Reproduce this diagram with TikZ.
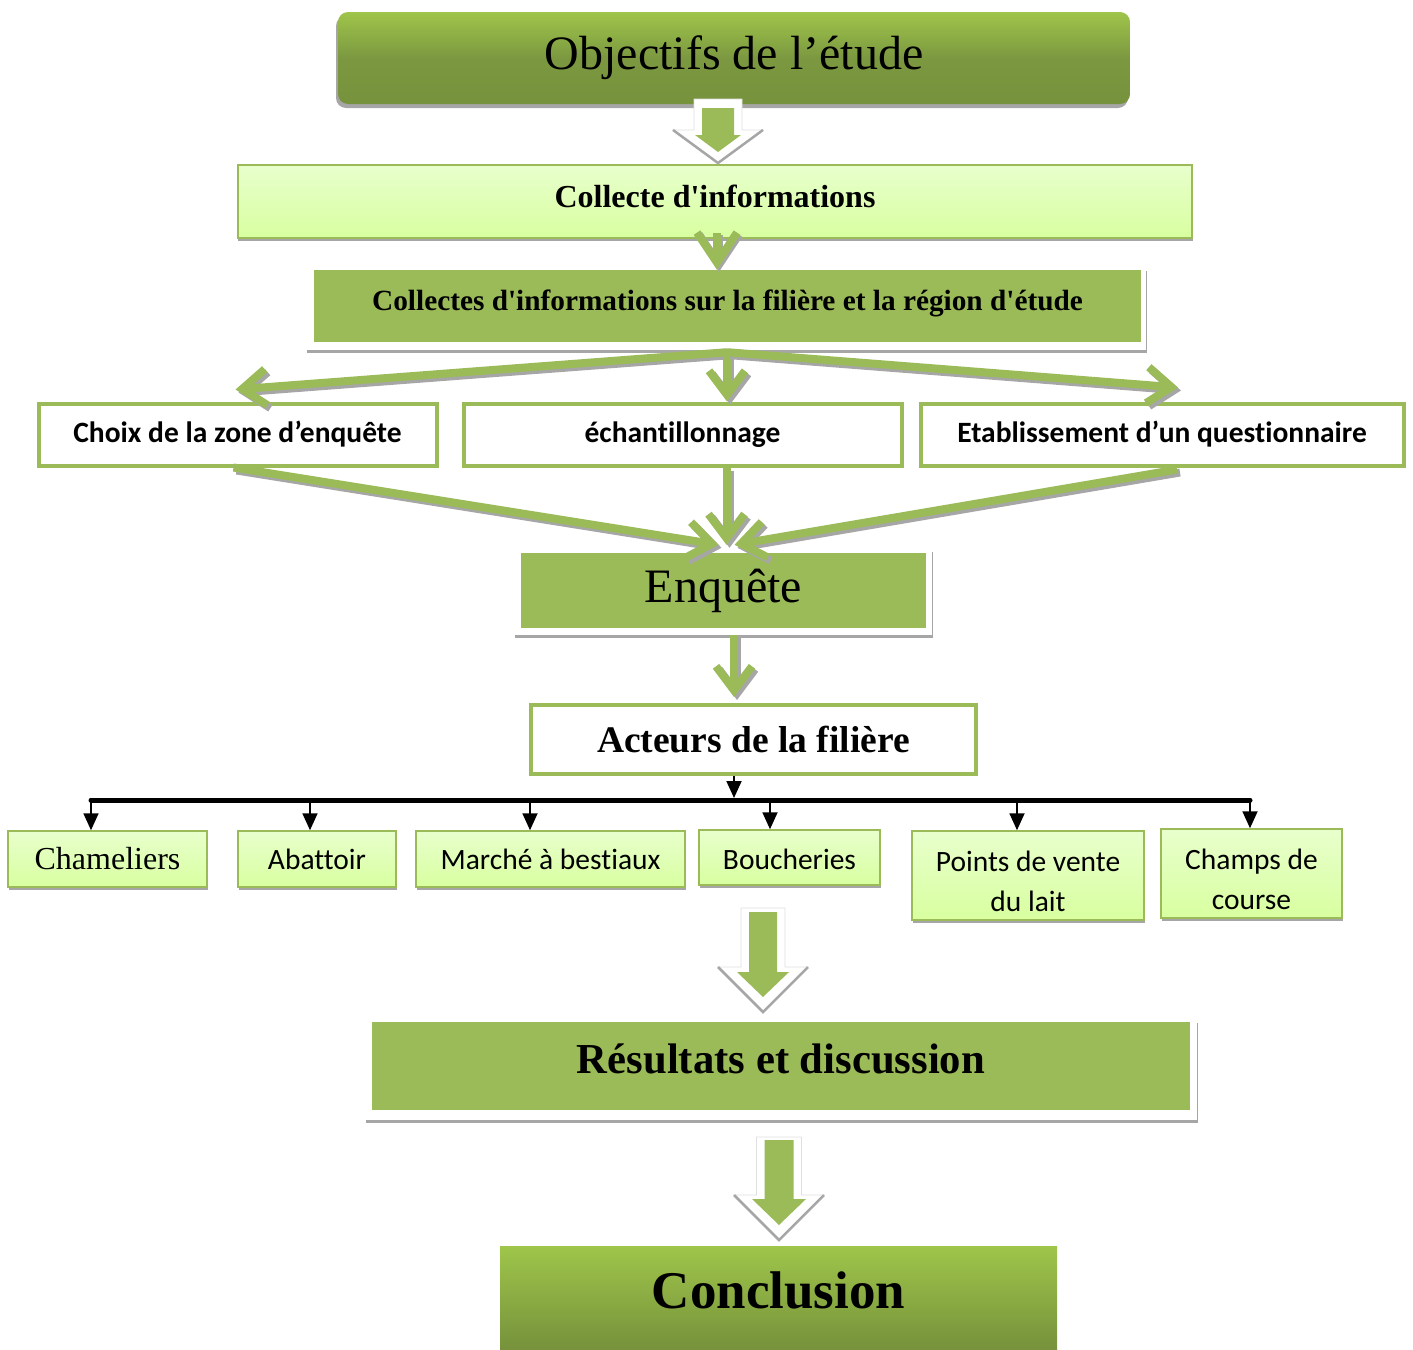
\documentclass[tikz,border=0pt]{standalone}
\usepackage{fontspec}
\setmainfont{Liberation Serif}
\newfontfamily\calib[Ligatures={NoCommon}]{Carlito}
\usetikzlibrary{arrows.meta,calc,shadows}
\definecolor{og}{HTML}{9BBB59}
\definecolor{ogd}{HTML}{76923C}
\definecolor{ogl}{HTML}{9FC54A}
\definecolor{lg}{HTML}{D8FFA0}
\definecolor{lgt}{HTML}{E8FFCC}
\definecolor{shc}{HTML}{A6A6A6}
\newcommand\fs[1]{\fontsize{#1}{#1}\selectfont}
\newcommand\sq{\textquotesingle}
\newcommand\bigarrow[9]{%
 \filldraw[fill=white,draw=gray!25,line width=0.8pt] ({#1-#8-8},#2) -- ({#1-#8-8},#3) -- ({#1-45},#3) -- (#1,#4) -- ({#1+45},#3) -- ({#1+#8+8},#3) -- ({#1+#8+8},#2) -- cycle;
 \draw[shc,line width=2.5pt] ({#1-45},#3) -- (#1,#4) -- ({#1+45},#3);
 \fill[og] ({#1-#8},#5) -- ({#1-#8},#6) -- ({#1-#9},#6) -- (#1,#7) -- ({#1+#9},#6) -- ({#1+#8},#6) -- ({#1+#8},#5) -- cycle;}
\tikzset{
 shd/.style={drop shadow={shadow xshift=#1, shadow yshift=-3pt, fill=shc, opacity=1}},
 shd/.default=1pt,
 lightbox/.style={draw=og, line width=1.5pt, top color=lgt, bottom color=lg, inner sep=0pt, shd, align=center},
 whitebox/.style={draw=og, line width=4pt, fill=white, inner sep=0pt},
 frame/.style={fill=white, draw=none, inner sep=0pt, shd=1pt},
 greenbox/.style={fill=og, draw=none, inner sep=0pt},
 garr/.style={draw=og, line width=8pt, -{Straight Barb[length=24pt,width=36pt]}},
 gsh/.style={draw=shc, line width=8pt, -{Straight Barb[length=24pt,width=36pt]}, transform canvas={shift={(3pt,-3pt)}}},
 barr/.style={-{Triangle[length=17pt,width=15pt]}, line width=1.8pt},
 sansreg/.style={font=\calib\fontsize{29.5}{40}\selectfont},
 sansbold/.style={font=\calib\fontsize{29.5}{30}\selectfont\bfseries},
}
\newcommand\garrow[2]{\draw[gsh] #1 -- #2; \draw[garr] #1 -- #2;}
\begin{document}
\begin{tikzpicture}[x=1pt,y=-1pt]
\useasboundingbox (0,0) rectangle (1413,1349);
% top
\node[rounded corners=10pt, top color=ogl, bottom color=ogd, middle color=ogd!85!og, minimum width=792pt, minimum height=92pt, inner sep=0pt,
 drop shadow={shadow xshift=-2pt, shadow yshift=-4pt, fill=shc, opacity=1}] (obj) at (734,58) {\raisebox{3pt}{\fs{48}Objectifs de l’étude}};
\node[lightbox, line width=2pt, minimum width=954pt, minimum height=73pt, shd=0pt] (col1) at (715,201.5) {\raisebox{10pt}{\fs{32}\bfseries Collecte d\sq informations}};
\bigarrow{718}{99}{130}{163}{108}{135}{152}{16}{23}
\node[frame, minimum width=840pt, minimum height=82pt] (col2f) at (726,309) {};
\node[greenbox, minimum width=827pt, minimum height=72pt] (col2) at (727.5,306) {\raisebox{12pt}{\fs{29.3}\bfseries Collectes d\sq informations sur la filière et la région d\sq étude}};
\draw[shc, line width=8pt, -{Straight Barb[length=30pt,width=40pt]}, transform canvas={shift={(2pt,-2pt)}}] ($(col1.south)+(2,-6)$) -- ($(col2.north)+(-10.5,0)$);
\draw[og, line width=8pt, -{Straight Barb[length=30pt,width=40pt]}] ($(col1.south)+(2,-6)$) -- ($(col2.north)+(-10.5,0)$);
% three boxes
\node[whitebox, sansbold, minimum width=398pt, minimum height=62pt] (choix) at (237.5,434.5) {Choix de la zone d’enquête};
\node[whitebox, sansbold, minimum width=438pt, minimum height=62pt] (ech) at (682.5,434.5) {échantillonnage};
\node[whitebox, sansbold, minimum width=483pt, minimum height=62pt] (etab) at (1162,434.5) {Etablissement d’un questionnaire};
\coordinate (fan) at ($(col2f.south)+(1,2)$);
\garrow{(fan)}{($(choix.north)+(-2,-12)$)}
\garrow{(fan)}{(ech.north -| fan)}
\garrow{(fan)}{($(etab.north)+(16,-14)$)}
% enquete
\node[frame, minimum width=418pt, minimum height=86pt] (enqf) at (723,592) {};
\node[greenbox, minimum width=405pt, minimum height=75pt] (enq) at (723.5,590.5) {\fs{48}Enquête};
\coordinate (conv) at ($(enq.north)+(3,-8)$);
\garrow{($(choix.south)+(-4,0)$)}{($(conv)+(-8,0)$)}
\garrow{(ech.south -| conv)}{(conv)}
\garrow{($(etab.south)+(15,2)$)}{($(conv)+(8,0)$)}
% acteurs
\node[whitebox, minimum width=445pt, minimum height=69pt] (act) at (753.5,739.5) {\fs{37.5}\bfseries Acteurs de la filière};
\coordinate (ea) at ($(act.north)+(-19.5,-6)$);
\garrow{(enqf.south -| ea)}{(ea)}
% bar
\coordinate (b1) at (91,800);
\coordinate (b2) at (310,800);
\coordinate (b3) at (530,800);
\coordinate (b4) at (770,800);
\coordinate (b5) at (1017,800);
\coordinate (b6) at (1250,800);
\coordinate (bm) at (734,800);
\node[lightbox, minimum width=199pt, minimum height=56pt, font=\fs{32}] (cham) at (107.5,859) {Chameliers};
\node[lightbox, sansreg, minimum width=158pt, minimum height=56pt] (abat) at (317,859) {Abattoir};
\node[lightbox, sansreg, minimum width=269pt, minimum height=56pt] (marc) at (550.5,859) {Marché à bestiaux};
\node[lightbox, sansreg, minimum width=181pt, minimum height=55pt] (bouc) at (789.5,857.5) {\rule{0pt}{25pt}Boucheries};
\node[lightbox, sansreg, minimum width=232pt, minimum height=89pt] (pts) at (1028,875.5) {\rule{0pt}{33pt}Points de vente\\du lait};
\node[lightbox, sansreg, minimum width=181pt, minimum height=89pt] (champ) at (1251.5,873.5) {\rule{0pt}{33pt}Champs de\\course};
\draw[barr] (act.south -| bm) -- ($(bm)+(0,-2)$);
\draw[line width=5pt, line cap=round] (b1) -- (b6);
\draw[barr] (b1) -- (b1 |- cham.north);
\draw[barr] (b2) -- (b2 |- abat.north);
\draw[barr] (b3) -- (b3 |- marc.north);
\draw[barr] (b4) -- (b4 |- bouc.north);
\draw[barr] (b5) -- (b5 |- pts.north);
\draw[barr] (b6) -- (b6 |- champ.north);
% results
\bigarrow{763}{908}{967}{1012}{912}{972}{997}{14}{26}
\node[frame, minimum width=832pt, minimum height=100pt] (resf) at (781,1070) {};
\node[greenbox, minimum width=818pt, minimum height=88pt] (res) at (781,1066) {\raisebox{14pt}{\fs{42.7}\bfseries Résultats et discussion}};
\bigarrow{779}{1137}{1195}{1240}{1140}{1199}{1225}{14.5}{27}
\node[top color=ogl, bottom color=ogd, minimum width=557pt, minimum height=103pt, inner sep=0pt] (concl) at (778.5,1297.5) {\raisebox{14pt}{\fs{53}\bfseries Conclusion}};
\end{tikzpicture}
\end{document}
